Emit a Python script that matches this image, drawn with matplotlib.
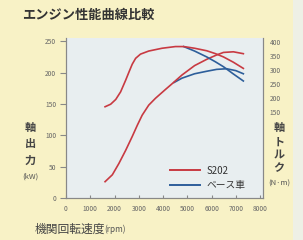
import matplotlib
matplotlib.use("Agg")
import matplotlib.pyplot as plt
from matplotlib.patches import Rectangle

plt.rcParams['font.family'] = ['Noto Sans CJK JP', 'DejaVu Sans']

# --- data ---
rpm_s202_torque = [1610, 1840, 2050, 2250, 2460, 2600, 2730, 2870, 3070, 3410, 3960, 4510,
                   4850, 5300, 5800, 6150, 6490, 6900, 7310]
s202_torque = [168, 177, 194, 221, 263, 293, 320, 341, 356, 367, 377, 383,
               383, 377, 368, 358, 346, 327, 305]
rpm_base_torque = [4850, 5300, 5800, 6150, 6490, 6900, 7310]
base_torque = [383, 367, 346, 329, 311, 285, 260]

rpm_s202_power = [1610, 1910, 2180, 2460, 2730, 2940, 3140, 3410, 3690, 4100, 4370, 4780,
                  5300, 5800, 6210, 6490, 6900, 7310]
s202_power = [26, 37, 55, 76, 98, 116, 132, 148, 159, 173, 182, 196,
              211, 221, 228, 232, 233, 230]
rpm_base_power = [4450, 4780, 5300, 5800, 6210, 6620, 7000, 7310]
base_power = [184, 191, 198, 202, 205, 206, 203, 198]

x_ticks = [0, 1000, 2000, 3000, 4000, 5000, 6000, 7000, 8000]
kw_ticks = [0, 50, 100, 150, 200, 250]
nm_ticks = [150, 200, 250, 300, 350, 400]
series_names = ['S202', 'ベース車']

red = '#c83a42'
blue = '#2d5e9a'
bg = '#f8f2c6'
panel = '#e8eef0'
grey = '#666666'

fig = plt.figure(figsize=(3.03, 2.40), dpi=100, facecolor=bg)
fig.patches.append(Rectangle((293/303, 0), 10/303, 1, transform=fig.transFigure,
                             facecolor='#eef0e6', edgecolor='none', zorder=0))
ax = fig.add_axes([66/303, 1-198/240, (263-66)/303, (198-38)/240])
ax.set_facecolor(panel)
ax.set_xlim(0, 8120)
ax.set_ylim(0, 255)

ax2 = ax.twinx()
ax2.set_ylim(-158, 413.6)

lw = 1.2
ax2.plot(rpm_base_torque, base_torque, color=blue, lw=lw, zorder=2)
ax2.plot(rpm_s202_torque, s202_torque, color=red, lw=lw, zorder=3)
ax.plot(rpm_base_power, base_power, color=blue, lw=lw, zorder=2)
ax.plot(rpm_s202_power, s202_power, color=red, lw=lw, zorder=3)

for a in (ax, ax2):
    for s in a.spines.values():
        s.set_color('#888888')
        s.set_linewidth(0.8)
    a.spines['top'].set_visible(False)

ax.set_xticks(x_ticks)
ax.set_xticklabels([str(v) for v in x_ticks], fontsize=4.8, color=grey)
ax.set_yticks(kw_ticks)
ax.set_yticklabels([str(v) for v in kw_ticks], fontsize=4.8, color=grey)
ax.tick_params(axis='x', direction='in', length=2, pad=5, color='#888888')
ax.tick_params(axis='y', direction='out', length=4, pad=3, color='#888888')
ax2.set_yticks(nm_ticks)
ax2.set_yticklabels([str(v) for v in nm_ticks], fontsize=4.8, color=grey)
ax2.tick_params(axis='y', length=0, pad=5)

# legend
h1, = ax.plot([], [], color=red, lw=1.4)
h2, = ax.plot([], [], color=blue, lw=1.4)
leg = ax.legend([h1, h2], series_names, loc='center left', frameon=False,
                fontsize=7, handlelength=3.1, handletextpad=0.7,
                borderaxespad=0, borderpad=0, labelspacing=0.45,
                bbox_to_anchor=(170/303, 1-178/240), bbox_transform=fig.transFigure)
for t in leg.get_texts():
    t.set_color('#333333')

fig.text(22/303, 1-15/240, 'エンジン性能曲線比較', fontsize=9.5, fontweight='bold',
         color='#333333', ha='left', va='center')

# axis titles (stacked vertical)
for ch, y in zip('軸出力', [128, 144, 160]):
    fig.text(30/303, 1-y/240, ch, fontsize=8, fontweight='bold', color='#444444',
             ha='center', va='center')
fig.text(30/303, 1-177/240, '(kW)', fontsize=5.5, color='#555555', ha='center', va='center')

for ch, y in zip('軸トルク', [128, 142, 155, 168]):
    fig.text(279/303, 1-y/240, ch, fontsize=8, fontweight='bold', color='#444444',
             ha='center', va='center')
fig.text(279/303, 1-184/240, '(N·m)', fontsize=5.5, color='#555555', ha='center', va='center')

fig.text(35/303, 1-229/240, '機関回転速度', fontsize=8.5, color='#444444', ha='left', va='center')
fig.text(104/303, 1-229/240, '(rpm)', fontsize=6, color='#555555', ha='left', va='center')

fig.savefig('out.png', dpi=100, facecolor=bg)
